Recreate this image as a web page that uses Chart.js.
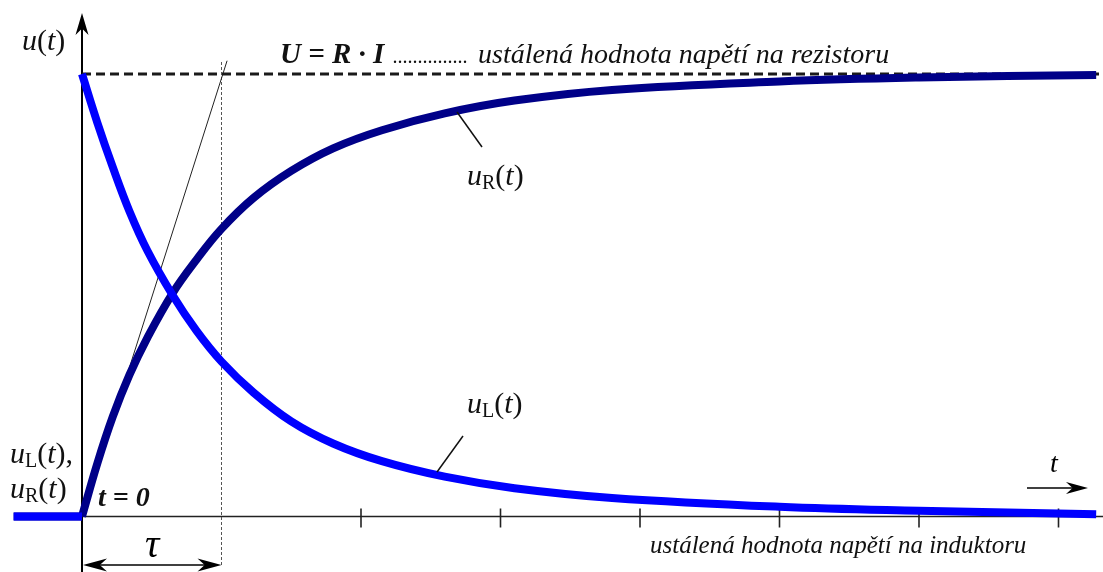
<!DOCTYPE html>
<html>
<head>
<meta charset="utf-8">
<script src="https://cdn.jsdelivr.net/npm/chart.js@4.4.1/dist/chart.umd.min.js"></script>
<style>
html, body { margin: 0; padding: 0; background: #fff; }
#wrap { width: 1103px; height: 572px; position: relative; }
</style>
</head>
<body>
<div id="wrap"><canvas id="c"></canvas></div>
<script>
// time in multiples of tau, voltages as a fraction of U = R*I
var tSteps   = [0, 0.11, 0.22, 0.34, 0.47, 0.65, 0.82, 1.0, 1.23, 1.5, 1.8, 2.15, 2.6, 3.1, 3.8, 5.0, 6.0, 7.27];
var uRValues = [0, 0.12, 0.225, 0.32, 0.405, 0.505, 0.58, 0.65, 0.72, 0.781, 0.832, 0.873, 0.911, 0.94, 0.964, 0.983, 0.992, 0.998];
var uLValues = [1, 0.89, 0.79, 0.69, 0.60, 0.50, 0.42, 0.35, 0.28, 0.215, 0.165, 0.125, 0.09, 0.064, 0.042, 0.022, 0.013, 0.005];
var tBefore  = [-0.49, 0];
var tickTimes = [2, 3, 4, 5, 6, 7];
var steadyT = [0, 7.32];
var tangentT = [0, 1.04];
var tangentU = [0, 1.03];

var SERIF = '"Liberation Serif", "Times New Roman", serif';

function pairs(xs, ys) {
    return xs.map(function(x, i) { return { x: x, y: ys[i] }; });
}

// the null point splits the flat part before t = 0 from the transient,
// so each piece gets its own spline (and the u_L jump is not drawn)
var uRData = pairs(tBefore, [0, 0]).concat([{ x: 0, y: null }], pairs(tSteps, uRValues));
var uLData = pairs(tBefore, [0, 0]).concat([{ x: 0, y: null }], pairs(tSteps, uLValues));

function arrowHead(ctx, x, y, dx, dy, len, half) {
    var nx = -dy, ny = dx;
    ctx.beginPath();
    ctx.moveTo(x, y);
    ctx.lineTo(x - dx * len + nx * half, y - dy * len + ny * half);
    ctx.lineTo(x - dx * len * 0.7, y - dy * len * 0.7);
    ctx.lineTo(x - dx * len - nx * half, y - dy * len - ny * half);
    ctx.closePath();
    ctx.fill();
}

function line(ctx, x1, y1, x2, y2, w) {
    ctx.lineWidth = w;
    ctx.beginPath();
    ctx.moveTo(x1, y1);
    ctx.lineTo(x2, y2);
    ctx.stroke();
}

// italic variable with upright subscript and brackets, e.g. u_R(t)
function drawVar(ctx, x, y, sub, tail) {
    ctx.textBaseline = 'alphabetic';
    ctx.font = 'italic 30px ' + SERIF;
    ctx.fillText('u', x, y);
    x += ctx.measureText('u').width;
    if (sub) {
        ctx.font = '20px ' + SERIF;
        ctx.fillText(sub, x, y + 4);
        x += ctx.measureText(sub).width;
    }
    ctx.font = '30px ' + SERIF;
    ctx.fillText('(', x, y);
    x += ctx.measureText('(').width;
    ctx.font = 'italic 30px ' + SERIF;
    ctx.fillText('t', x, y);
    x += ctx.measureText('t').width;
    ctx.font = '30px ' + SERIF;
    ctx.fillText(')' + (tail || ''), x, y);
}

var diagram = {
    id: 'diagram',
    beforeDatasetsDraw: function(chart) {
        var ctx = chart.ctx, X = chart.scales.x, Y = chart.scales.y;
        var x0 = X.getPixelForValue(0), y0 = Y.getPixelForValue(0);
        var xt = X.getPixelForValue(1), yU = Y.getPixelForValue(1);
        ctx.save();
        ctx.strokeStyle = '#222';
        line(ctx, x0, y0, chart.width, y0, 1.6);
        tickTimes.forEach(function(t) {
            var x = X.getPixelForValue(t);
            line(ctx, x, y0 - 8, x, y0 + 11, 1.6);
        });
        // tau marker
        ctx.strokeStyle = '#555';
        ctx.setLineDash([3, 2]);
        line(ctx, xt, yU - 12, xt, y0 + 50, 1);
        ctx.setLineDash([]);
        // vertical axis
        ctx.strokeStyle = '#000';
        ctx.fillStyle = '#000';
        line(ctx, x0, chart.height, x0, 24, 2);
        arrowHead(ctx, x0, 13, 0, -1, 22, 6.5);
        ctx.restore();
    },
    afterDraw: function(chart) {
        var ctx = chart.ctx, X = chart.scales.x;
        var x0 = X.getPixelForValue(0), xt = X.getPixelForValue(1);
        ctx.save();
        ctx.fillStyle = '#111';
        ctx.strokeStyle = '#111';

        // y axis title
        ctx.font = 'italic 30px ' + SERIF;
        ctx.fillText('u', 22, 50);
        var w = ctx.measureText('u').width;
        ctx.font = '30px ' + SERIF;
        ctx.fillText('(', 22 + w, 50);
        w += ctx.measureText('(').width;
        ctx.font = 'italic 30px ' + SERIF;
        ctx.fillText('t', 22 + w, 50);
        w += ctx.measureText('t').width;
        ctx.font = '30px ' + SERIF;
        ctx.fillText(')', 22 + w, 50);

        // steady value of the resistor voltage
        ctx.font = 'bold italic 29px ' + SERIF;
        ctx.fillText('U = R \u00b7 I', 280, 63);
        ctx.font = 'italic 20px ' + SERIF;
        ctx.fillText('...............', 393, 63);
        ctx.font = 'italic 28px ' + SERIF;
        ctx.fillText('ustálená hodnota napětí na rezistoru', 478, 63);

        // curve labels with leaders
        drawVar(ctx, 467, 185, 'R');
        line(ctx, 457, 112, 482, 147, 1.5);
        drawVar(ctx, 467, 413, 'L');
        line(ctx, 463, 436, 437, 472, 1.5);

        drawVar(ctx, 10, 463, 'L', ',');
        drawVar(ctx, 10, 498, 'R');

        ctx.font = 'bold italic 28px ' + SERIF;
        ctx.fillText('t = 0', 98, 506);

        // tau span
        ctx.fillStyle = '#000';
        ctx.strokeStyle = '#000';
        line(ctx, x0 + 6, 565, xt - 6, 565, 1.5);
        arrowHead(ctx, x0 + 1, 565, -1, 0, 24, 6.5);
        arrowHead(ctx, xt, 565, 1, 0, 24, 6.5);
        ctx.font = 'italic 40px ' + SERIF;
        ctx.fillText('\u03c4', 145, 557);

        // time direction
        line(ctx, 1027, 488, 1075, 488, 1.6);
        arrowHead(ctx, 1088, 488, 1, 0, 22, 6);
        ctx.font = 'italic 28px ' + SERIF;
        ctx.fillText('t', 1050, 472);

        ctx.fillStyle = '#111';
        ctx.font = 'italic 25px ' + SERIF;
        ctx.fillText('ustálená hodnota napětí na induktoru', 650, 553);
        ctx.restore();
    }
};

new Chart(document.getElementById('c').getContext('2d'), {
    type: 'line',
    data: {
        datasets: [
            {
                label: 'uL',
                data: uLData,
                borderColor: '#0000ff',
                borderWidth: 8,
                tension: 0.4,
                order: 1
            },
            {
                label: 'uR',
                data: uRData,
                borderColor: '#000088',
                borderWidth: 8,
                tension: 0.4,
                order: 2
            },
            {
                label: 'U',
                data: pairs(steadyT, [1, 1]),
                borderColor: '#1a1a1a',
                borderWidth: 2.8,
                borderDash: [9, 5],
                order: 3
            },
            {
                label: 'tangent',
                data: pairs(tangentT, tangentU),
                borderColor: '#222',
                borderWidth: 1,
                order: 4
            }
        ]
    },
    options: {
        responsive: true,
        maintainAspectRatio: false,
        animation: false,
        layout: { padding: 0 },
        elements: { point: { radius: 0 } },
        plugins: { legend: { display: false }, tooltip: { enabled: false } },
        scales: {
            x: { type: 'linear', display: false, min: -82 / 139.5, max: 1021 / 139.5 },
            y: { type: 'linear', display: false, min: -55.5 / 442.5, max: 516.5 / 442.5 }
        }
    },
    plugins: [diagram]
});
</script>
</body>
</html>
